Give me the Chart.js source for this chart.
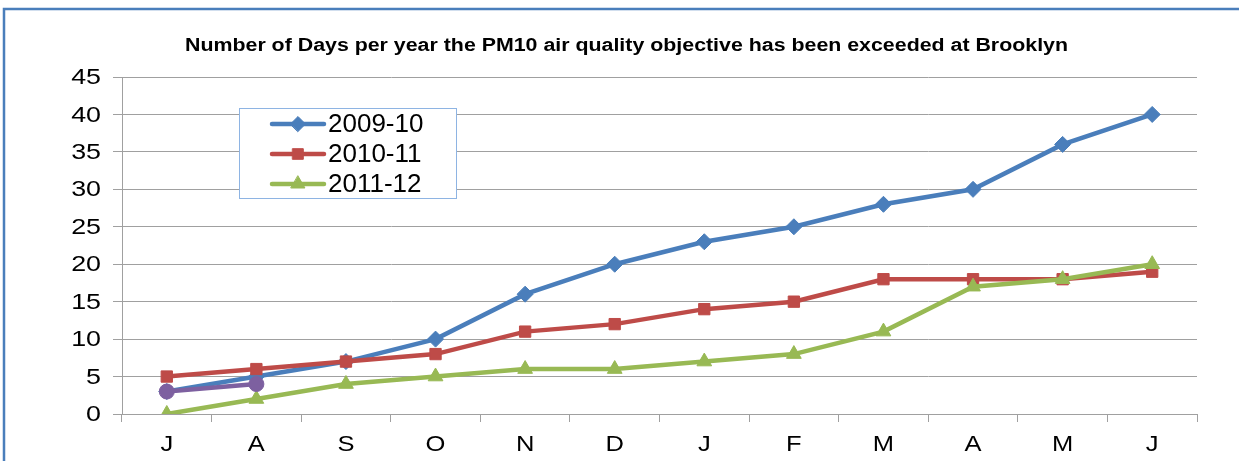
<!DOCTYPE html>
<html>
<head>
<meta charset="utf-8">
<script src="https://cdn.jsdelivr.net/npm/chart.js@4"></script>
<style>
  html, body { margin: 0; padding: 0; background: #fff; }
  #wrap { width: 1239px; height: 461px; position: relative; }
</style>
</head>
<body>
<div id="wrap"><canvas id="c" width="1239" height="461"></canvas></div>
<script>
const titleText = 'Number of Days per year the PM10 air quality objective has been exceeded at Brooklyn';
const months = ['J', 'A', 'S', 'O', 'N', 'D', 'J', 'F', 'M', 'A', 'M', 'J'];
const series2009 = [3, 5, 7, 10, 16, 20, 23, 25, 28, 30, 36, 40];
const series2010 = [5, 6, 7, 8, 11, 12, 14, 15, 18, 18, 18, 19];
const series2011 = [0, 2, 4, 5, 6, 6, 7, 8, 11, 17, 18, 20];
const series2012 = [3, 4, null, null, null, null, null, null, null, null, null, null];
const seriesLabels = ['2009-10', '2010-11', '2011-12', '2012-13'];
const yTicks = { min: 0, max: 45, step: 5 };

const FONT = "'Liberation Sans', Arial, sans-serif";

// draw text horizontally stretched (the reference text is wider than Arial)
function wideText(ctx, text, x, y, sx, align) {
  ctx.save();
  ctx.translate(x, y);
  ctx.scale(sx, 1);
  ctx.textAlign = align;
  ctx.fillText(text, 0, 0);
  ctx.restore();
}

const framePlugin = {
  id: 'frame',
  beforeDraw(chart) {
    const ctx = chart.ctx;
    ctx.save();
    ctx.fillStyle = '#ffffff';
    ctx.fillRect(0, 0, chart.width, chart.height);
    ctx.strokeStyle = '#4A7EBB';
    ctx.lineWidth = 2.5;
    ctx.beginPath();
    ctx.moveTo(4, chart.height);
    ctx.lineTo(4, 9);
    ctx.lineTo(chart.width, 9);
    ctx.stroke();
    ctx.restore();
  }
};

const textPlugin = {
  id: 'texts',
  afterDraw(chart) {
    const ctx = chart.ctx;
    ctx.save();
    ctx.fillStyle = '#000';
    ctx.textBaseline = 'middle';
    // title
    ctx.font = 'bold 18px ' + FONT;
    const tw = ctx.measureText(titleText).width;
    wideText(ctx, titleText, 626.5, 46, 883 / tw, 'center');
    // y tick labels
    ctx.font = '22px ' + FONT;
    const ys = chart.scales.y;
    ys.ticks.forEach((t, i) => {
      wideText(ctx, String(t.label), 101, ys.getPixelForTick(i) + 1, 1.22, 'right');
    });
    // x tick labels
    const xs = chart.scales.x;
    xs.ticks.forEach((t, i) => {
      wideText(ctx, String(xs.getLabelForValue(t.value)), xs.getPixelForTick(i), 445, 1.16, 'center');
    });
    ctx.restore();
  }
};

const legendPlugin = {
  id: 'boxLegend',
  afterDraw(chart) {
    const ctx = chart.ctx;
    ctx.save();
    const x0 = 239.5, y0 = 108.5, w = 217, h = 90;
    ctx.fillStyle = '#ffffff';
    ctx.fillRect(x0, y0, w, h);
    ctx.strokeStyle = '#8EB4E3';
    ctx.lineWidth = 1;
    ctx.strokeRect(x0, y0, w, h);
    for (let i = 0; i < 3; i++) {
      const ds = chart.data.datasets[i];
      const cy = 124 + i * 30;
      ctx.strokeStyle = ds.borderColor;
      ctx.lineWidth = 4.5;
      ctx.lineCap = 'round';
      ctx.beginPath();
      ctx.moveTo(272, cy);
      ctx.lineTo(324, cy);
      ctx.stroke();
      ctx.fillStyle = ds.pointBackgroundColor;
      ctx.strokeStyle = ds.pointBorderColor;
      ctx.lineWidth = 1;
      Chart.helpers.drawPoint(ctx, { pointStyle: ds.pointStyle, radius: ds.pointRadius - 0.5, borderWidth: 1, rotation: 0 }, 298, cy);
      ctx.fillStyle = '#000';
      ctx.font = '25px ' + FONT;
      ctx.textBaseline = 'middle';
      wideText(ctx, ds.label, 328, cy + 1, 1.04, 'left');
    }
    ctx.restore();
  }
};

function mk(label, data, color, style, radius, order) {
  return {
    label: label,
    data: data,
    borderColor: color,
    backgroundColor: color,
    pointBackgroundColor: color,
    pointBorderColor: color,
    pointStyle: style,
    pointRadius: radius,
    pointHoverRadius: radius,
    pointBorderWidth: 1,
    borderWidth: 4.5,
    tension: 0,
    spanGaps: false,
    order: order
  };
}

const ctx = document.getElementById('c').getContext('2d');
new Chart(ctx, {
  type: 'line',
  data: {
    labels: months,
    datasets: [
      mk(seriesLabels[0], series2009, '#4A7EBB', 'rectRot', 8, 4),
      mk(seriesLabels[1], series2010, '#BE4B48', 'rect', 8, 3),
      mk(seriesLabels[2], series2011, '#98B954', 'triangle', 8.5, 2),
      mk(seriesLabels[3], series2012, '#7D60A0', 'circle', 7.5, 1)
    ]
  },
  options: {
    responsive: false,
    animation: false,
    events: [],
    layout: { padding: { left: 0, right: 42, top: 77, bottom: 0 } },
    plugins: {
      legend: { display: false },
      tooltip: { enabled: false },
      title: { display: false }
    },
    scales: {
      x: {
        offset: true,
        grid: {
          offset: true,
          drawOnChartArea: false,
          drawTicks: true,
          tickLength: 8,
          color: '#A0A0A0',
          lineWidth: 1
        },
        border: { display: true, color: '#A0A0A0', width: 1 },
        ticks: { display: false, autoSkip: false, maxRotation: 0 },
        afterFit(scale) { scale.height = 47; }
      },
      y: {
        min: yTicks.min,
        max: yTicks.max,
        grid: {
          color: '#A0A0A0',
          lineWidth: 1,
          drawTicks: true,
          tickLength: 9
        },
        border: { display: true, color: '#A0A0A0', width: 1 },
        ticks: { display: false, stepSize: yTicks.step },
        afterFit(scale) { scale.width = 122; }
      }
    }
  },
  plugins: [framePlugin, legendPlugin, textPlugin]
});
</script>
</body>
</html>
